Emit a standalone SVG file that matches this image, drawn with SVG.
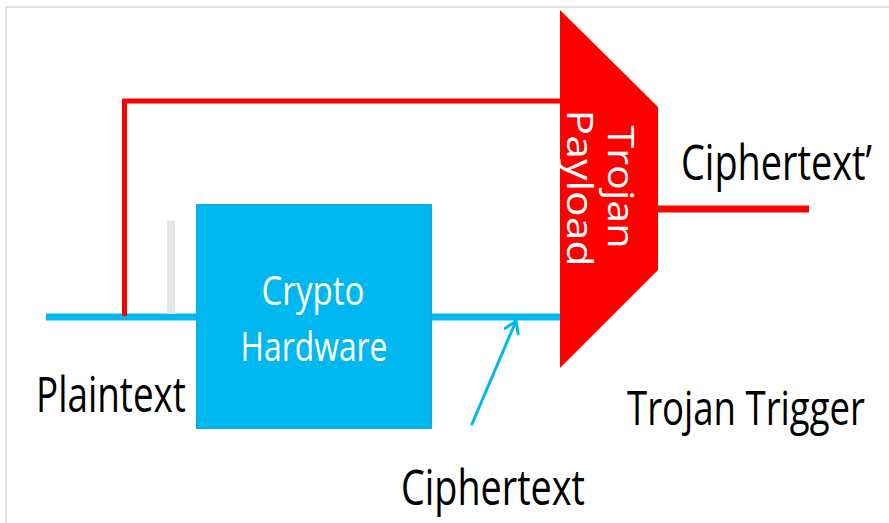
<svg xmlns="http://www.w3.org/2000/svg" width="889" height="523" viewBox="0 0 889 523">
<defs>
<style>
.lbl{font-family:"Open Sans","Noto Sans","Liberation Sans",sans-serif;fill:#000;}
.wt{font-family:"Open Sans","Noto Sans","Liberation Sans",sans-serif;fill:#fff;}
.red{stroke:#FF0000;fill:none;}
.blue{stroke:#00B8F0;fill:none;}
</style>
<marker id="arr" markerWidth="18" markerHeight="18" refX="13" refY="9" orient="auto" markerUnits="userSpaceOnUse">
<polyline points="2,2 13,9 2,16" fill="none" stroke="#00B8F0" stroke-width="3" stroke-linecap="round" stroke-linejoin="round"/>
</marker>
</defs>
<rect width="889" height="523" fill="#fff"/>
<path d="M6,523 V7 H889" fill="none" stroke="#E3E3E3" stroke-width="2"/>
<g id="connectors">
<line class="blue" x1="46" y1="317" x2="561" y2="317" stroke-width="7"/>
<polyline class="red" points="124.5,316 124.5,101 561,101" stroke-width="5"/>
<line class="red" x1="657" y1="209" x2="809" y2="209" stroke-width="7"/>
<line class="blue" x1="472" y1="424" x2="516" y2="321" stroke-width="3" stroke-linecap="round" marker-end="url(#arr)"/>
</g>
<g id="bar">
<rect x="167" y="221" width="8" height="93" fill="#E6E6E6"/>
</g>
<g id="crypto">
<rect x="196.5" y="204.5" width="235" height="224" fill="#00B8F0" stroke="#1AA6D6" stroke-width="1"/>
<text class="wt" x="313" y="305" font-size="40" text-anchor="middle" textLength="103" lengthAdjust="spacingAndGlyphs">Crypto</text>
<text class="wt" x="314" y="361" font-size="40" text-anchor="middle" textLength="147" lengthAdjust="spacingAndGlyphs">Hardware</text>
</g>
<g id="payload">
<polygon points="560,10 658,107 658,270 560,368" fill="#FF0000"/>
<text class="wt" transform="translate(608,187) rotate(90)" font-size="36" text-anchor="middle" textLength="123" lengthAdjust="spacingAndGlyphs">Trojan</text>
<text class="wt" transform="translate(567,188) rotate(90)" font-size="36" text-anchor="middle" textLength="157" lengthAdjust="spacingAndGlyphs">Payload</text>
</g>
<g id="labels">
<text class="lbl" x="36" y="412" font-size="50" textLength="150" lengthAdjust="spacingAndGlyphs">Plaintext</text>
<text class="lbl" x="401" y="505" font-size="50" textLength="184" lengthAdjust="spacingAndGlyphs">Ciphertext</text>
<text class="lbl" transform="translate(681,180) scale(0.75,1)" font-size="50" textLength="254.7" lengthAdjust="spacingAndGlyphs">Ciphertext’</text>
<text class="lbl" transform="translate(627,425) scale(0.8,1)" font-size="48" textLength="297.5" lengthAdjust="spacingAndGlyphs">Trojan Trigger</text>
</g>
</svg>
